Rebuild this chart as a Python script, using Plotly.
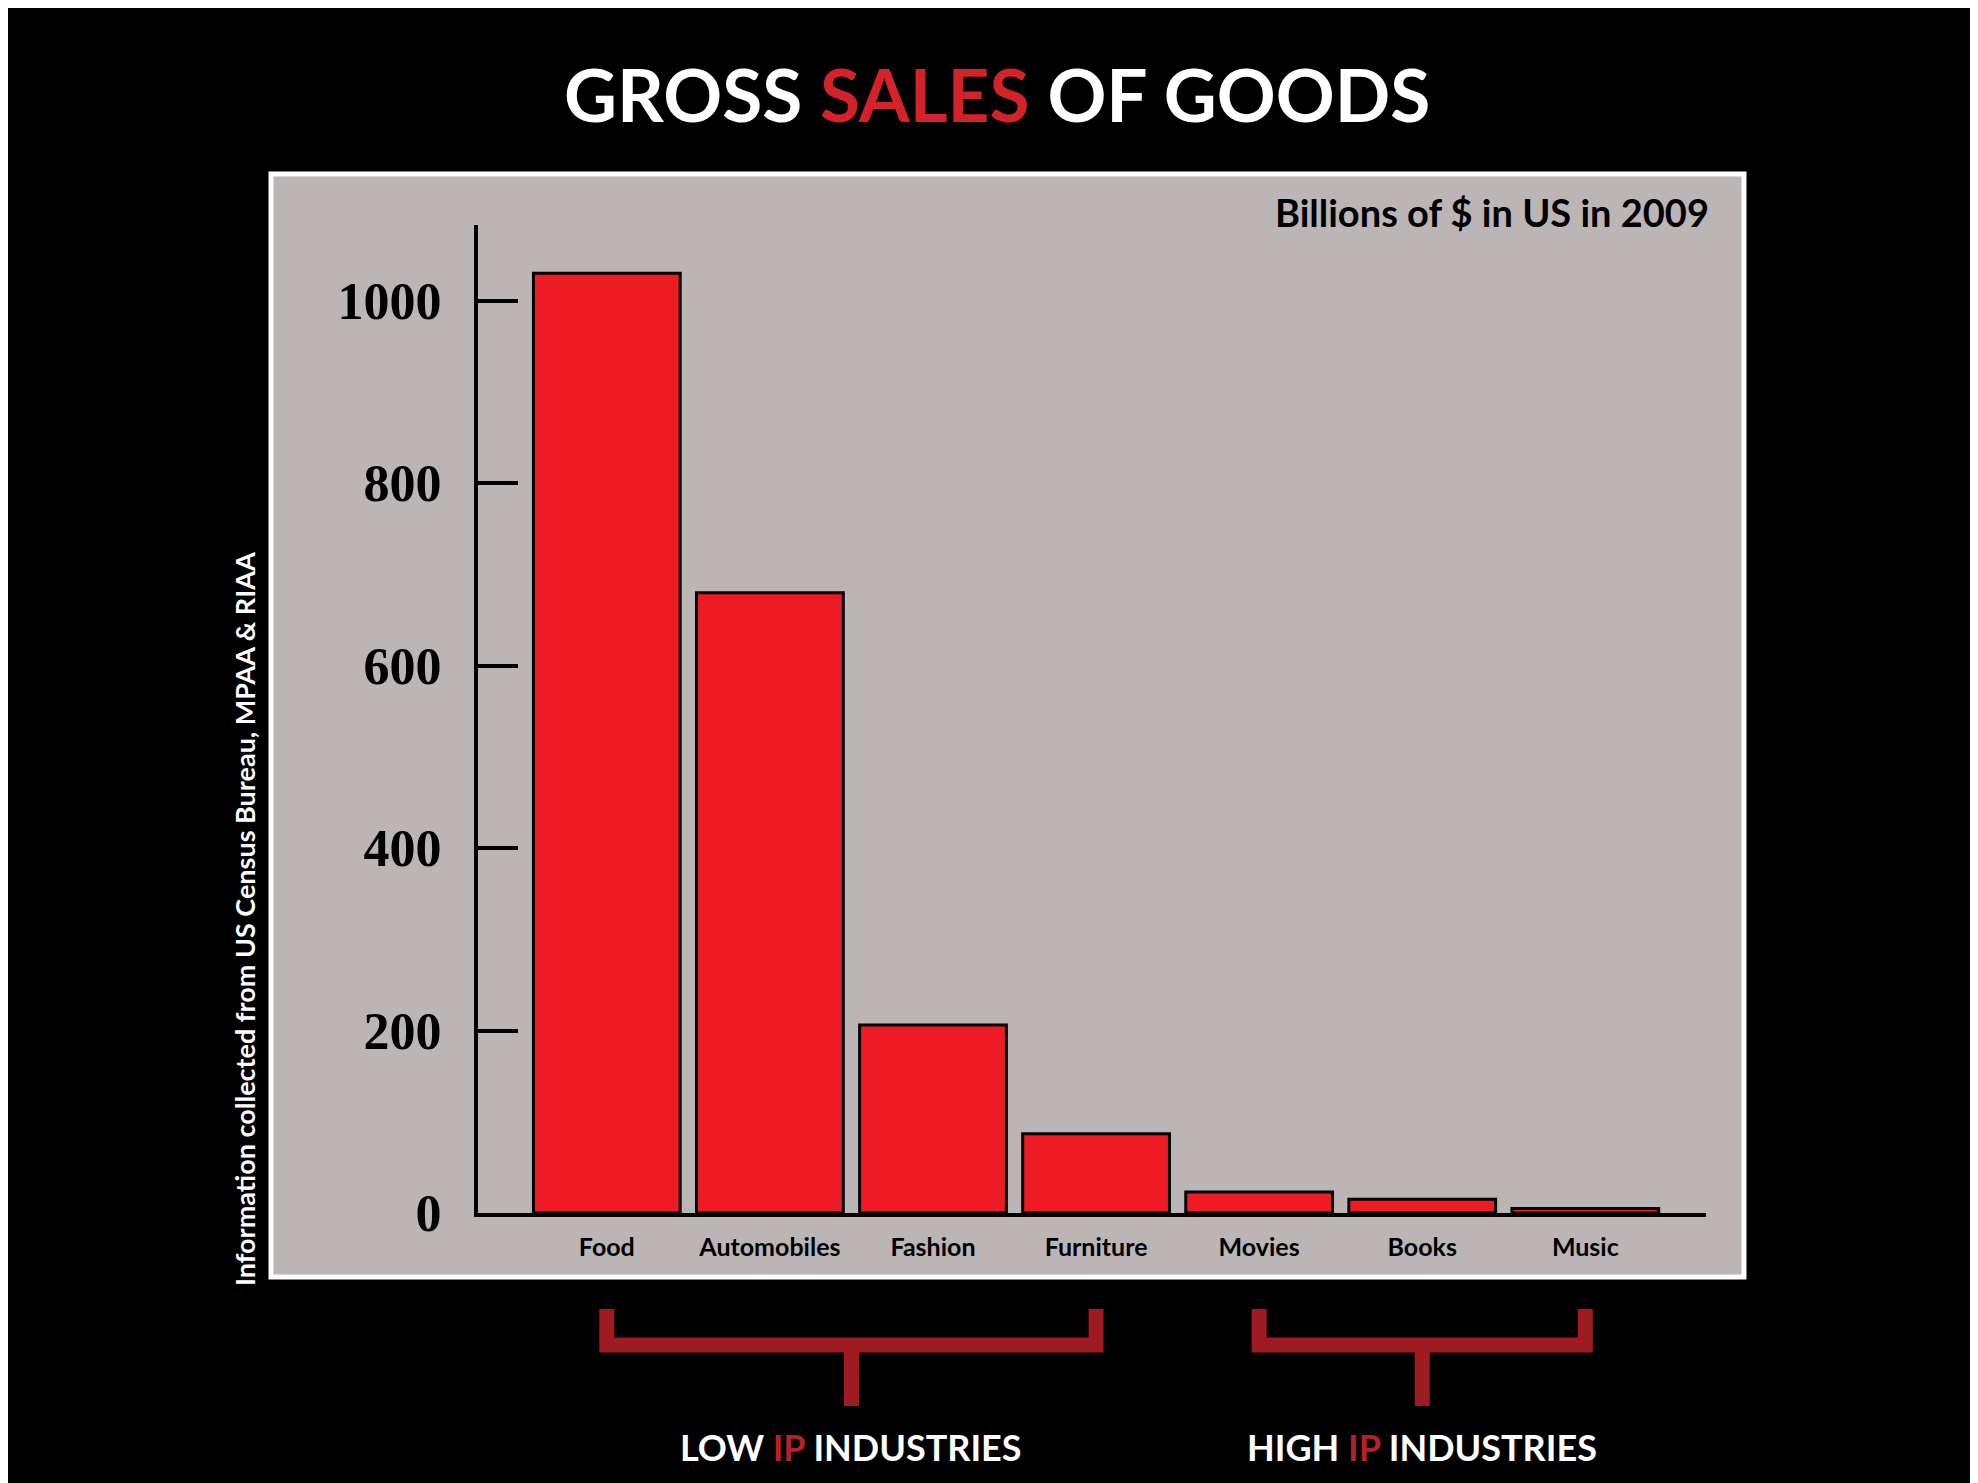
import plotly.graph_objects as go

# gross sales, billions of $ in US in 2009
categories = ["Food", "Automobiles", "Fashion", "Furniture", "Movies", "Books", "Music"]
sales = [1030, 680, 206, 87, 23, 15, 5]
y_ticks = [0, 200, 400, 600, 800, 1000]

# bracket groups: (first index, last index, label)
groups = [
    (0, 3, "LOW <span style='color:#b5212a'>IP</span> INDUSTRIES"),
    (4, 6, "HIGH <span style='color:#b5212a'>IP</span> INDUSTRIES"),
]

W, H = 1978, 1483
bar_red = "#ed1c24"
bracket_red = "#9e1c21"
panel_gray = "#bbb5b6"
sans = "Lato"
serif = "Liberation Serif"


def py(px):
    # pixel row -> paper y
    return 1 - px / H


x = list(range(len(categories)))

fig = go.Figure()
fig.add_trace(go.Bar(
    x=x, y=sales, width=0.9,
    marker=dict(color=bar_red, line=dict(color="black", width=3)),
    hoverinfo="x+y",
))

# gray panel with white border
fig.add_shape(type="rect", xref="paper", yref="paper",
              x0=263 / W, x1=1736 / W, y0=py(1269), y1=py(166),
              fillcolor=panel_gray, line=dict(color="white", width=5), layer="below")

# brackets under the categories
for a, b, label in groups:
    mid = (a + b) / 2
    y_top, y_bar, y_stem = py(1301), py(1337), py(1398)
    fig.add_shape(type="path", xref="x", yref="paper",
                  path=f"M {a},{y_top} L {a},{y_bar} L {b},{y_bar} L {b},{y_top}",
                  line=dict(color=bracket_red, width=15))
    fig.add_shape(type="line", xref="x", yref="paper",
                  x0=mid, x1=mid, y0=y_bar, y1=y_stem,
                  line=dict(color=bracket_red, width=15))
    fig.add_annotation(x=mid, xref="x", y=py(1439), yref="paper",
                       xanchor="center", yanchor="middle",
                       text=label, showarrow=False,
                       font=dict(family=sans, size=36, color="white", weight="bold"))

# title
fig.add_annotation(x=0.5, xref="paper", y=py(86), yref="paper",
                   xanchor="center", yanchor="middle",
                   text="GROSS <span style='color:#d2232a'>SALES</span> OF GOODS",
                   showarrow=False,
                   font=dict(family=sans, size=73, color="white", weight="bold"))

fig.add_annotation(x=1703 / W, xref="paper", y=py(204), yref="paper",
                   xanchor="right", yanchor="middle",
                   text="Billions of $ in US in 2009", showarrow=False,
                   font=dict(family=sans, size=38, color="black", weight="bold"))

fig.add_annotation(x=236 / W, xref="paper", y=py(911), yref="paper",
                   xanchor="center", yanchor="middle",
                   text="Information collected from US Census Bureau, MPAA & RIAA",
                   textangle=-90, showarrow=False,
                   font=dict(family=sans, size=27, color="white", weight="bold"))

fig.update_layout(
    width=W, height=H,
    margin=dict(l=0, r=0, t=0, b=0, pad=0),
    paper_bgcolor="black", plot_bgcolor="rgba(0,0,0,0)",
    showlegend=False,
    xaxis=dict(domain=[470 / W, 1698 / W], range=[-0.79, 6.74], automargin=False,
               tickvals=x, ticktext=categories, showgrid=False, zeroline=False,
               showline=True, linecolor="black", linewidth=4, ticks="",
               ticklabelstandoff=9,
               tickfont=dict(family=sans, size=25, color="black", weight="bold")),
    yaxis=dict(domain=[py(1205), py(217)], range=[0, 1083], automargin=False,
               tickvals=y_ticks, showgrid=False, zeroline=False,
               showline=True, linecolor="black", linewidth=4,
               ticks="inside", ticklen=40, tickwidth=4, tickcolor="black",
               ticklabelstandoff=22,
               tickfont=dict(family=serif, size=52, color="black", weight="bold")),
)

fig.write_html("out.html")
